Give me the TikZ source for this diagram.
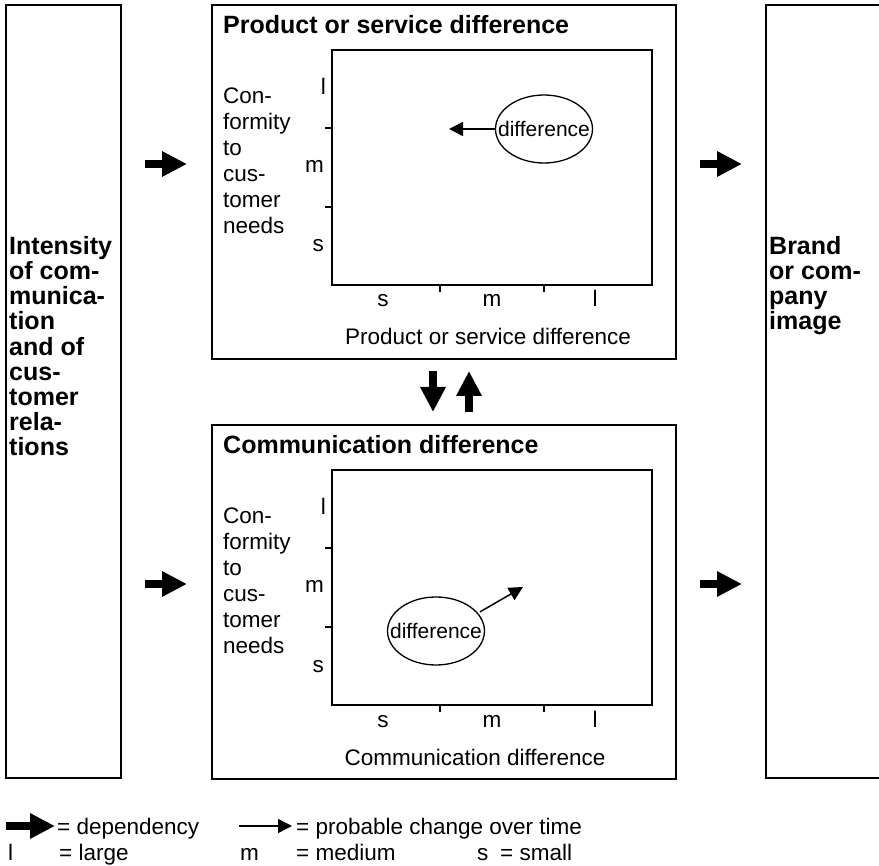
\documentclass[tikz,border=0pt]{standalone}
\usepackage{fontspec}
\setmainfont{Liberation Sans}
\usetikzlibrary{arrows.meta,shapes.geometric}

\begin{document}
\begin{tikzpicture}[x=1pt,y=-1pt,
  frame/.style={draw, line width=1.3pt},
  tickline/.style={line width=1.3pt},
  txt/.style={font=\fontsize{22.5}{26}\selectfont, inner sep=0pt},
  btxt/.style={font=\fontsize{25}{25.2}\selectfont\bfseries, inner sep=0pt},
  dep/.style={line width=7.5pt, -{Triangle[length=25pt,width=24pt]}},
  change/.style={line width=1.5pt, -{Triangle[length=14pt,width=14pt]}},
  oval/.style={draw, ellipse, line width=1.3pt, minimum width=97pt,
    minimum height=68pt, inner xsep=-12pt, inner ysep=0pt,
    font=\fontsize{21}{24}\selectfont}
]
\useasboundingbox[fill=white] (0,0) rectangle (879,866);

% outer columns
\draw[frame] (6,5) rectangle (121,778);
\draw[frame] (766,5) rectangle (882,778);
\node[btxt, align=left, anchor=north west] (intensity) at (9,236)
  {Intensity\\of com-\\munica-\\tion\\and of\\cus-\\tomer\\rela-\\tions};
\node[btxt, align=left, anchor=north west] (brand) at (769,236)
  {Brand\\or com-\\pany\\image};

% one difference panel, shifted vertically
\foreach \dy/\title/\axis/\ax in {0/Product or service difference/Product or service difference/488,
                            420/Communication difference/Communication difference/475}{
  \begin{scope}[yshift=-\dy pt]
    \draw[frame] (212,5) rectangle (676,359);
    \node[btxt, anchor=west] at (223,25) {\title};
    \draw[frame] (332,50) rectangle (652,285);
    \draw[tickline] (332,128) -- (325,128) (332,207) -- (325,207);
    \draw[tickline] (440,285) -- (440,292) (544,285) -- (544,292);
    \node[txt, anchor=base east] at (326,95) {l};
    \node[txt, anchor=base east] at (324,173) {m};
    \node[txt, anchor=base east] at (324,252) {s};
    \node[txt, anchor=base] at (383,307) {s};
    \node[txt, anchor=base] at (492,307) {m};
    \node[txt, anchor=base] at (595,307) {l};
    \node[txt, anchor=base] at (\ax,345) {\axis};
    \node[txt, align=left, anchor=north west] at (223,88)
      {Con-\\formity\\to\\cus-\\tomer\\needs};
  \end{scope}
}

% positions within the panels
\node[oval] (diffA) at (544,129) {difference};
\coordinate (diffAend) at (449,129);
\draw[change] (diffA.west) -- (diffAend);

\node[oval] (diffB) at (436,631) {difference};
\coordinate (diffBend) at (523,587);
\draw[change] ([xshift=3pt]diffB.25) -- (diffBend);

% dependency arrows
\coordinate (inA) at (145,164);  \coordinate (inAend) at (187,164);
\coordinate (inB) at (145,584);  \coordinate (inBend) at (187,584);
\coordinate (outA) at (700,164); \coordinate (outAend) at (742,164);
\coordinate (outB) at (700,584); \coordinate (outBend) at (742,584);
\draw[dep] (inA) -- (inAend);
\draw[dep] (inB) -- (inBend);
\draw[dep] (outA) -- (outAend);
\draw[dep] (outB) -- (outBend);

\coordinate (dnA) at (433,371); \coordinate (dnB) at (433,412);
\coordinate (upA) at (469,412); \coordinate (upB) at (469,371);
\draw[dep] (dnA) -- (dnB);
\draw[dep] (upA) -- (upB);

% legend
\coordinate (lgA) at (6,826);   \coordinate (lgAend) at (55,826);
\coordinate (lgB) at (239,826); \coordinate (lgBend) at (292,826);
\draw[dep] (lgA) -- (lgAend);
\draw[change] (lgB) -- (lgBend);
\node[txt, anchor=base west] (lgdep) at (57,834) {= dependency};
\node[txt, anchor=base west] (lgchg) at (296,834) {= probable change over time};
\node[txt, anchor=base west] (lgl) at (8,860) {l};
\node[txt, anchor=base west] (lgldef) at (59,860) {= large};
\node[txt, anchor=base west] (lgm) at (240,860) {m};
\node[txt, anchor=base west] (lgmdef) at (296,860) {= medium};
\node[txt, anchor=base west] (lgs) at (477,860) {s};
\node[txt, anchor=base west] (lgsdef) at (500,860) {= small};
\end{tikzpicture}
\end{document}
